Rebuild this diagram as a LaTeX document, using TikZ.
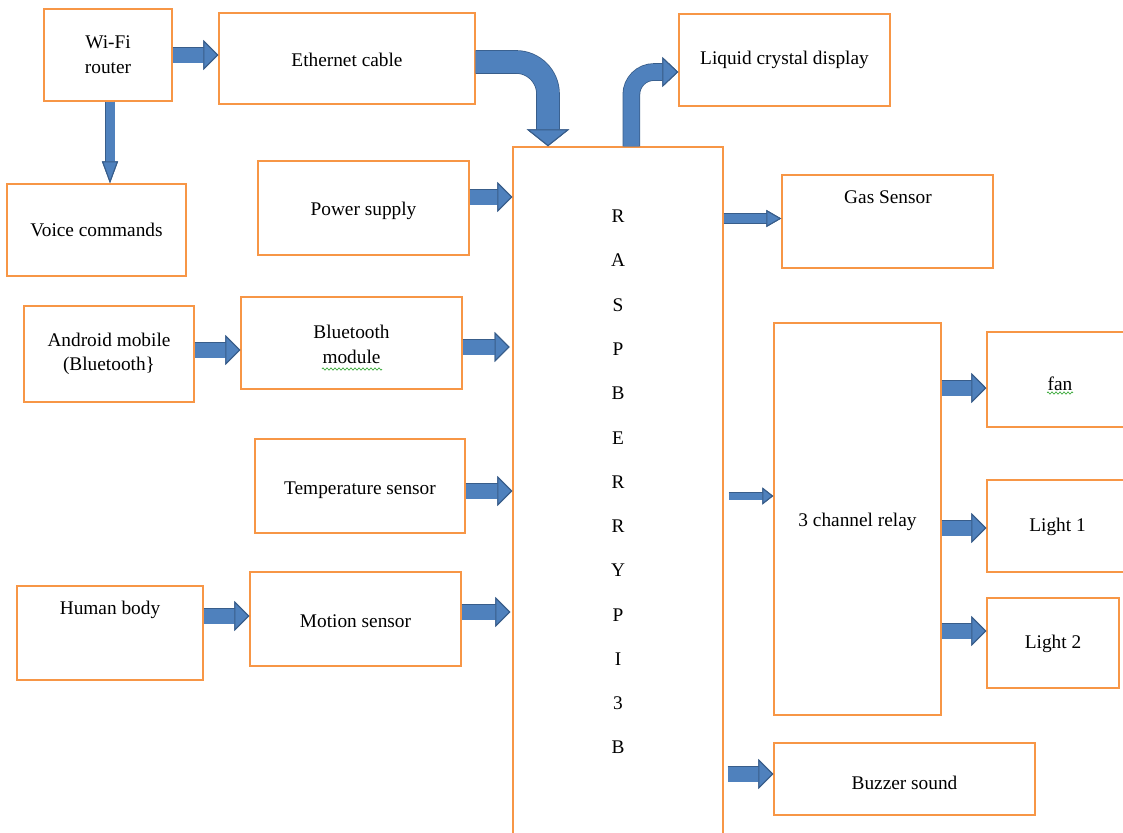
\documentclass[tikz,border=0pt]{standalone}
\usepackage{fontspec}
\setmainfont{Liberation Serif}
\usetikzlibrary{arrows.meta,fit,decorations.pathmorphing}
\definecolor{boxorange}{RGB}{247,150,70}
\definecolor{arrfill}{RGB}{79,129,189}
\definecolor{arredge}{RGB}{56,93,138}
\definecolor{spellgreen}{RGB}{60,170,60}
\tikzset{
  box/.style={draw=boxorange, line width=1.1pt, inner sep=0pt},
  txt/.style={align=center, inner sep=0pt, font=\fontsize{14.5}{18.5}\selectfont},
  blockarrow/.style n args={3}{draw=arrfill, line width=#1,
    preaction={draw=arredge, line width=#1+1.2pt},
    -{Triangle[length=#3, width=#2, line width=0.8pt, fill=arrfill, color=arredge]}},
  bigarrow/.style={blockarrow={11.25pt}{22.5pt}{11.25pt}},
  thinarrow/.style={blockarrow={6.75pt}{12.75pt}{11.25pt}},
  slimarrow/.style={blockarrow={5.25pt}{12.75pt}{8.25pt}},
  downarrow/.style={blockarrow={6.75pt}{12pt}{16.5pt}},
  etharrow/.style={blockarrow={16.5pt}{32pt}{12.75pt}, rounded corners=24pt},
  lcdarrow/.style={blockarrow={12pt}{22.5pt}{12pt}, rounded corners=17pt},
  squiggle/.style={draw=spellgreen, line width=0.5pt, decorate,
    decoration={zigzag, amplitude=0.9pt, segment length=3pt}}
}
\begin{document}
\begin{tikzpicture}[x=0.75pt,y=-0.75pt]
\useasboundingbox (0,0) rectangle (1123,832);
\clip (0,0) rectangle (1123,832);

% boxes
\node[box, fit={(44,9) (172,101)}, label={[txt]center:Wi-Fi\\router}] (wifi) {};
\node[box, fit={(219,13) (475,104)}, label={[txt, yshift=-1pt]center:Ethernet cable}] (eth) {};
\node[box, fit={(7,184) (186,276)}, label={[txt]center:Voice commands}] (voice) {};
\node[box, fit={(258,161) (469,255)}, label={[txt, yshift=-2pt]center:Power supply}] (power) {};
\node[box, fit={(24,306) (194,402)}, label={[txt]center:Android mobile\\(Bluetooth\}}] (android) {};
\node[box, fit={(241,297) (462,389)}, label={[txt, yshift=-1pt]center:Bluetooth\\module}] (bt) {};
\node[box, fit={(255,439) (465,533)}, label={[txt, yshift=-3pt]center:Temperature sensor}] (temp) {};
\node[box, fit={(17,586) (203,680)}] (human) {};
\node[txt] (humantext) at (110,610) {Human body};
\node[box, fit={(250,572) (461,666)}, label={[txt, yshift=-2pt]center:Motion sensor}] (motion) {};
\node[box, fit={(513,147) (723,900)}] (pi) {};
\node[txt, font=\fontsize{14.5}{33.2}\selectfont] (pitext) at (618,482)
  {R\\A\\S\\P\\B\\E\\R\\R\\Y\\P\\I\\3\\B};
\node[box, fit={(679,14) (890,106)}, label={[txt]center:Liquid crystal display}] (lcd) {};
\node[box, fit={(782,175) (993,268)}] (gas) {};
\node[txt] (gastext) at (888,197) {Gas Sensor};
\node[box, fit={(774,323) (941,715)}, label={[txt, yshift=-2pt]center:3 channel relay}] (relay) {};
\node[box, fit={(987,332) (1133,427)}, label={[txt, yshift=-3pt]center:fan}] (fan) {};
\node[box, fit={(987,480) (1128,572)}, label={[txt, yshift=-1pt]center:Light 1}] (light1) {};
\node[box, fit={(987,598) (1119,688)}, label={[txt, yshift=-1pt]center:Light 2}] (light2) {};
\node[box, fit={(774,743) (1035,815)}, label={[txt, yshift=-3pt]center:Buzzer sound}] (buzzer) {};

% spell-check marks
\draw[squiggle] (1047,393) -- (1073,393);
\draw[squiggle] (322,369) -- (382,369);

% connectors
\draw[bigarrow] (wifi.east) -- (wifi.east -| eth.west);
\draw[downarrow] ([xshift=1.5pt]wifi.south) -- ([xshift=1.5pt]wifi.south |- voice.north);
\draw[bigarrow] ([yshift=3pt]android.east) -- ([yshift=3pt]android.east -| bt.west);
\draw[bigarrow] ([yshift=12.75pt]human.east) -- ([yshift=12.75pt]human.east -| motion.west);
\draw[bigarrow] ([yshift=8.25pt]power.east) -- ([yshift=8.25pt]power.east -| pi.west);
\draw[bigarrow] ([yshift=-3pt]bt.east) -- ([yshift=-3pt,xshift=-2pt]bt.east -| pi.west);
\draw[bigarrow] ([yshift=-3.75pt]temp.east) -- ([yshift=-3.75pt]temp.east -| pi.west);
\draw[bigarrow] ([yshift=5.25pt]motion.east) -- ([yshift=5.25pt,xshift=-1.5pt]motion.east -| pi.west);
\draw[thinarrow] ([yshift=2.25pt]gas.west -| pi.east) -- ([yshift=2.25pt]gas.west);
\draw[slimarrow] ([yshift=17.25pt,xshift=3.75pt]relay.west -| pi.east) -- ([yshift=17.25pt]relay.west);
\draw[bigarrow] ([yshift=-6.4pt]fan.west -| relay.east) -- ([yshift=-6.4pt]fan.west);
\draw[bigarrow] ([yshift=-1.5pt]light1.west -| relay.east) -- ([yshift=-1.5pt]light1.west);
\draw[bigarrow] ([yshift=9pt]light2.west -| relay.east) -- ([yshift=9pt]light2.west);
\draw[bigarrow] ([yshift=3.75pt,xshift=3pt]buzzer.west -| pi.east) -- ([yshift=3.75pt]buzzer.west);
\draw[etharrow] ([yshift=-2.6pt]eth.east) -| ([xshift=-52.5pt]pi.north);
\draw[lcdarrow] ([xshift=10pt]pi.north) |- ([yshift=-9pt]lcd.west);
\end{tikzpicture}
\end{document}
